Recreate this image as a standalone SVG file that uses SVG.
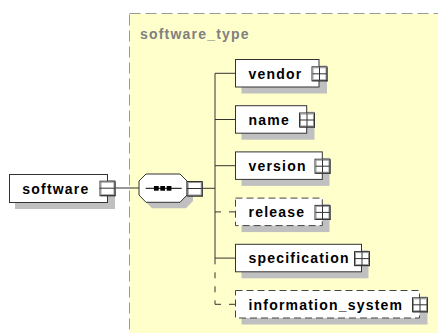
<svg xmlns="http://www.w3.org/2000/svg" xmlns:xlink="http://www.w3.org/1999/xlink" width="438" height="333" viewBox="0 0 438 333">
<style>
.bg{fill:#ffffcc;stroke:#999;stroke-width:1;stroke-dasharray:11,5}
.ttl{font-family:"Liberation Sans",Arial,sans-serif;font-size:14px;font-weight:bold;fill:#808080;letter-spacing:1.2px}
.lbl{font-family:"Liberation Sans",Arial,sans-serif;font-size:14px;font-weight:bold;fill:#000;letter-spacing:1.2px}
.box{fill:#fff;stroke:#333;stroke-width:1}
.opt{fill:#fff;stroke:#444;stroke-width:1;stroke-dasharray:7,4}
.shd{fill:#c0c0c0;stroke:none}
.con{fill:none;stroke:#333;stroke-width:1}
.dcon{fill:none;stroke:#333;stroke-width:1;stroke-dasharray:6,8}
</style>
<defs>
<g id="plus">
<rect x="0.5" y="0.5" width="15" height="14" fill="#fff" stroke="#333"/>
<rect x="1.5" y="1.5" width="13" height="12" fill="none" stroke="#999"/>
<line x1="15.5" y1="1" x2="15.5" y2="15" stroke="#333"/>
<line x1="1" y1="14.5" x2="16" y2="14.5" stroke="#333"/>
<line x1="1" y1="7.5" x2="15" y2="7.5" stroke="#333"/>
<line x1="8" y1="1" x2="8" y2="14" stroke="#333"/>
</g>
<g id="minus">
<rect x="0.5" y="0.5" width="15" height="14.5" fill="#fff" stroke="#333"/>
<rect x="1.5" y="1.5" width="13" height="12.5" fill="none" stroke="#999"/>
<line x1="15.5" y1="1" x2="15.5" y2="15.5" stroke="#333"/>
<line x1="1" y1="15" x2="16" y2="15" stroke="#333"/>
<line x1="0" y1="7.5" x2="15" y2="7.5" stroke="#333"/>
</g>
</defs>
<rect width="438" height="333" fill="#fff"/>
<g id="software_type">
<rect class="bg" x="129.5" y="13.5" width="330" height="340"/>
<text class="ttl" x="140" y="38.5">software_type</text>
</g>
<g id="connectors">
<line class="con" x1="115.5" y1="188" x2="139" y2="188"/>
<line class="con" x1="202" y1="188.3" x2="215" y2="188.3"/>
<line class="con" x1="215" y1="73.3" x2="215" y2="258.3"/>
<line class="dcon" x1="215" y1="258.3" x2="215" y2="304.3"/>
<line class="con" x1="215" y1="73.3" x2="235.5" y2="73.3"/>
<line class="con" x1="215" y1="119.5" x2="235.5" y2="119.5"/>
<line class="con" x1="215" y1="165.7" x2="235.5" y2="165.7"/>
<line class="dcon" x1="215" y1="211.9" x2="235.5" y2="211.9"/>
<line class="con" x1="215" y1="258.1" x2="235.5" y2="258.1"/>
<line class="dcon" x1="215" y1="304.3" x2="235.5" y2="304.3"/>
</g>
<g id="software">
<rect class="shd" x="15" y="180" width="100" height="29"/>
<rect class="box" x="9.5" y="174.5" width="98" height="28"/>
<text class="lbl" x="22.3" y="194.3">software</text>
<use xlink:href="#minus" x="99.5" y="180.7"/>
</g>
<g id="sequence">
<polygon class="shd" points="145,187 152,180 186,180 193,187 193,201 186,208.3 152,208.3 145,201"/>
<polygon class="box" points="139,181 146,174 180,174 187,181 187,195 180,202.3 146,202.3 139,195"/>
<line x1="145.7" y1="188.3" x2="181.7" y2="188.3" stroke="#000"/>
<rect x="154" y="186" width="4.7" height="4.7" fill="#000"/>
<rect x="160.3" y="186" width="4.7" height="4.7" fill="#000"/>
<rect x="166.7" y="186" width="4.7" height="4.7" fill="#000"/>
<use xlink:href="#minus" x="186.7" y="181"/>
</g>
<g id="vendor">
<rect class="shd" x="241.5" y="65.5" width="85.5" height="28"/>
<rect class="box" x="235.5" y="59.5" width="83.5" height="27.5"/>
<text class="lbl" x="248.5" y="78.5">vendor</text>
<use xlink:href="#plus" x="311.5" y="66.3"/>
</g>
<g id="name">
<rect class="shd" x="241.5" y="111.7" width="73" height="28"/>
<rect class="box" x="235.5" y="105.7" width="71.2" height="27.5"/>
<text class="lbl" x="248.5" y="124.7">name</text>
<use xlink:href="#plus" x="299" y="112.5"/>
</g>
<g id="version">
<rect class="shd" x="241.5" y="157.9" width="88" height="28"/>
<rect class="box" x="235.5" y="151.9" width="86.8" height="27.5"/>
<text class="lbl" x="248.5" y="170.9">version</text>
<use xlink:href="#plus" x="314.5" y="158.7"/>
</g>
<g id="release">
<rect class="shd" x="241.5" y="204.1" width="88" height="28"/>
<rect class="opt" x="235.5" y="198.1" width="86.8" height="27.5"/>
<text class="lbl" x="248.5" y="217.1">release</text>
<use xlink:href="#plus" x="314.5" y="204.9"/>
</g>
<g id="specification">
<rect class="shd" x="241.5" y="250.3" width="127" height="28"/>
<rect class="box" x="235.5" y="244.3" width="126" height="27.5"/>
<text class="lbl" x="248.5" y="263.3">specification</text>
<use xlink:href="#plus" x="354" y="251.1"/>
</g>
<g id="information_system">
<rect class="shd" x="241.5" y="296.5" width="186" height="28"/>
<rect class="opt" x="235.5" y="290.5" width="184" height="27.5"/>
<text class="lbl" x="248.5" y="309.5">information_system</text>
<use xlink:href="#plus" x="412" y="297.3"/>
</g>
</svg>
